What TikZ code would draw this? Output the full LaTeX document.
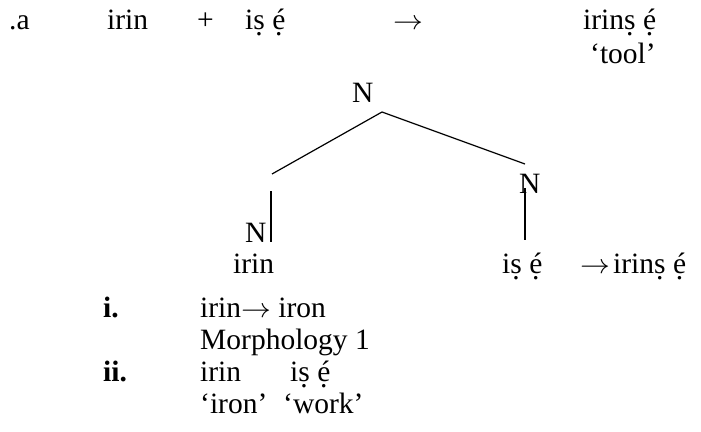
\documentclass[tikz,border=0pt]{standalone}
\usepackage{fontspec}
\setmainfont{Liberation Serif}
\newcommand{\arr}{\scalebox{1.2}[1.1]{$\rightarrow$}}
\newcommand{\dotb}[1]{\ooalign{#1\cr\hidewidth\raisebox{-0.5ex}{.}\hidewidth\cr}}
\newcommand{\ise}{i\dotb{s} \dotb{é}}
\newcommand{\irinse}{irin\dotb{s} \dotb{é}}
\begin{document}
\begin{tikzpicture}[x=1pt,y=-1pt,
  txt/.style={inner sep=0pt, anchor=base west, font=\fontsize{29.5}{32}\selectfont},
  lbl/.style={txt, font=\fontsize{29.5}{32}\selectfont\bfseries},
  branch/.style={line width=1.2pt}]
\useasboundingbox (0,0) rectangle (701,431);
% row 1
\node[txt] (a) at (9,29) {.a};
\node[txt] (r1irin) at (107,29) {irin};
\node[txt] (plus) at (197,29) {+};
\node[txt] (r1ise) at (245,29) {\ise};
\node[txt] (r1arr) at (393,29) {\arr};
\node[txt] (r1res) at (583,29) {\irinse};
\node[txt] (tool) at (590,63) {‘tool’};
% tree
\node[txt] (Ntop) at (352,102) {N};
\node[txt] (Nright) at (519,193) {N};
\node[txt] (Nleft) at (245,242) {N};
\coordinate (apex) at (382,112);
\coordinate (lend) at (272,174);
\coordinate (rend) at (525,164);
\coordinate (lv1) at (271,191);
\coordinate (lv2) at (271,242);
\coordinate (rv1) at (525,188);
\coordinate (rv2) at (525,240);
\draw[branch] (apex) -- (lend);
\draw[branch] (apex) -- (rend);
\draw[branch] (lv1) -- (lv2);
\draw[branch] (rv1) -- (rv2);
% row 3
\node[txt] (r3irin) at (233,273) {irin};
\node[txt] (r3ise) at (502,273) {\ise};
\node[txt] (r3arr) at (580,273) {\arr};
\node[txt] (r3res) at (613,273) {\irinse};
% bottom
\node[lbl] (li) at (103,317) {i.};
\node[txt] (b1) at (200,317) {irin\arr\ iron};
\node[txt] (b2) at (200,349) {Morphology 1};
\node[lbl] (lii) at (103,381) {ii.};
\node[txt] (b3a) at (200,381) {irin};
\node[txt] (b3b) at (290,381) {\ise};
\node[txt] (b4a) at (200,413) {‘iron’};
\node[txt] (b4b) at (283,413) {‘work’};
\end{tikzpicture}
\end{document}
